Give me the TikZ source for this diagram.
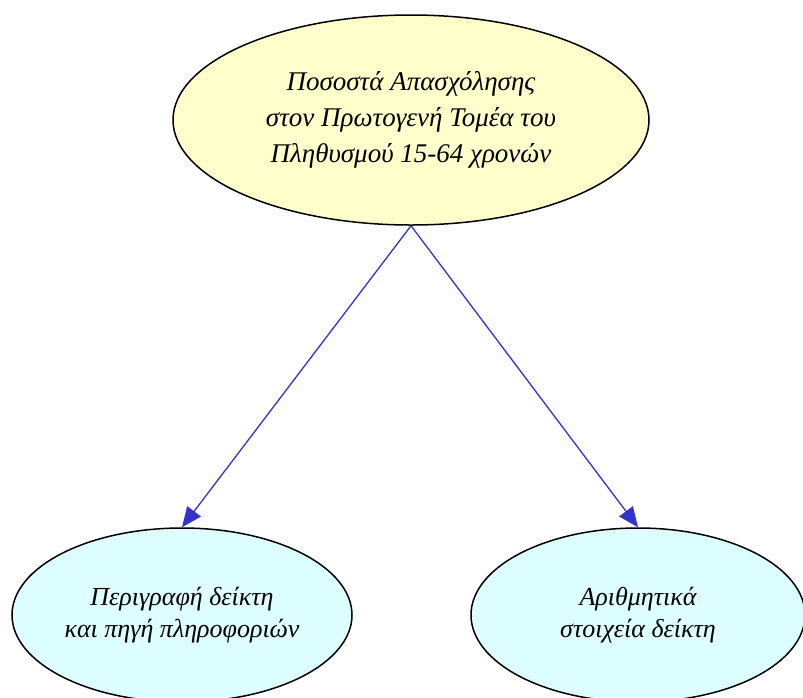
\documentclass[tikz,border=0pt]{standalone}
\usepackage{fontspec}
\setmainfont{Liberation Serif}
\usetikzlibrary{arrows.meta,shapes.geometric}
\definecolor{topfill}{HTML}{FFFFCC}
\definecolor{botfill}{HTML}{DDFFFF}
\definecolor{edgeblue}{HTML}{3333CC}
\tikzset{
  oval/.style={draw=black, line width=1.5pt, ellipse, inner sep=0pt, align=center,
    font=\fontsize{27}{36}\selectfont\itshape},
  link/.style={draw=edgeblue, line width=1.3pt, -{Triangle[length=20pt,width=17pt]}}
}
\begin{document}
\begin{tikzpicture}[x=1pt,y=-1pt]
\useasboundingbox (0,0) rectangle (803,697);
\node[oval, fill=topfill, minimum width=476pt, minimum height=210pt] (top) at (411,120)
  {Ποσοστά Απασχόλησης\\στον Πρωτογενή Τομέα του\\Πληθυσμού 15-64 χρονών};
\node[oval, fill=botfill, minimum width=340pt, minimum height=174pt,
  font=\fontsize{26}{32}\selectfont\itshape] (left) at (182,615)
  {Περιγραφή δείκτη\\και πηγή πληροφοριών};
\node[oval, fill=botfill, minimum width=334pt, minimum height=174pt,
  font=\fontsize{26}{32}\selectfont\itshape] (right) at (638,615)
  {Αριθμητικά\\στοιχεία δείκτη};
\draw[link] (top.south) -- (left.north);
\draw[link] (top.south) -- (right.north);
\end{tikzpicture}
\end{document}
